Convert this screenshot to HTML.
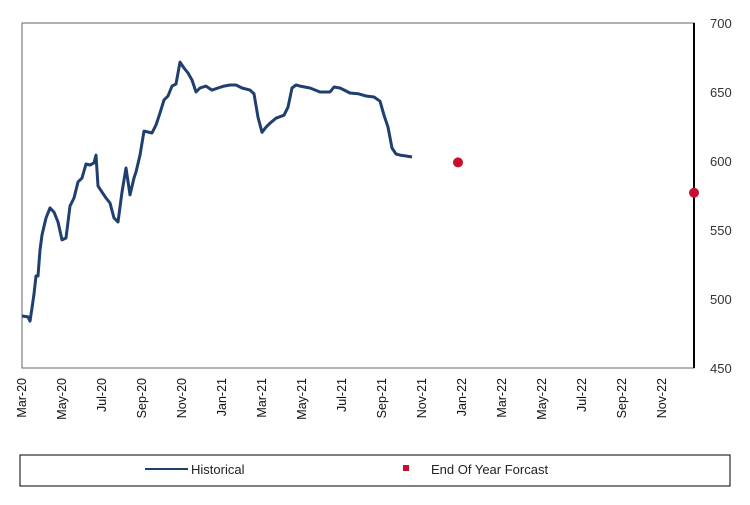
<!DOCTYPE html>
<html><head><meta charset="utf-8"><style>
body{margin:0;background:#fff;font-family:"Liberation Sans",Arial,sans-serif}
</style></head><body>
<svg id="chart" width="750" height="500" xmlns="http://www.w3.org/2000/svg">
<rect x="0" y="0" width="750" height="500" fill="#fff"/>
<rect x="22" y="23" width="672" height="345" fill="none" stroke="#666" stroke-width="1"/>
<line x1="694" y1="23" x2="694" y2="368" stroke="#000" stroke-width="2"/>
<g id="yt"></g>
<g id="xt"></g>
<path id="hist" fill="none" stroke="#1f3f6e" stroke-width="3" stroke-linejoin="round"/>
<g id="fc"></g>
<g>
<rect x="20" y="455" width="710" height="31" fill="#fff" stroke="#000" stroke-width="1"/>
<line x1="145" y1="469" x2="188" y2="469" stroke="#1f3f6e" stroke-width="2"/>
<text x="191" y="474" font-size="13" fill="#222">Historical</text>
<rect x="403" y="465" width="6" height="6" fill="#c8102e"/>
<text x="431" y="474" font-size="13" fill="#222">End Of Year Forcast</text>
</g>
</svg>
<script>
const yTicks=[450,500,550,600,650,700];
const xLabels=["Mar-20","May-20","Jul-20","Sep-20","Nov-20","Jan-21","Mar-21","May-21","Jul-21","Sep-21","Nov-21","Jan-22","Mar-22","May-22","Jul-22","Sep-22","Nov-22"];
const histMonths=[0,0.3,0.4,0.5,0.6,0.7,0.8,0.9,1,1.2,1.4,1.6,1.8,2,2.2,2.4,2.6,2.8,3,3.2,3.4,3.6,3.7,3.8,4,4.2,4.4,4.6,4.8,5,5.2,5.4,5.6,5.7,5.9,6.1,6.3,6.5,6.7,6.9,7.1,7.3,7.5,7.7,7.9,8.1,8.3,8.5,8.7,8.9,9.2,9.5,9.8,10.1,10.4,10.7,11,11.4,11.6,11.8,12,12.2,12.4,12.7,13.1,13.3,13.5,13.7,13.9,14.4,14.9,15.4,15.6,15.9,16.4,16.8,17.2,17.6,17.9,18.1,18.3,18.5,18.7,18.9,19.2,19.5];
const histValues=[487.7,487,484,493.5,503.6,516.7,516.7,535.5,546.4,558.7,566,563,555.8,542.8,544.2,567.4,573.2,584.8,587.7,597.8,597.1,598.6,604.3,581.9,577.5,573.2,569.6,558.7,555.8,577.5,594.9,575.4,587.7,592,604.3,621.7,621,620.3,626.1,634.8,644.2,647.1,654.3,655.8,671.7,667.4,663.8,658.7,650,652.9,654.3,651.4,652.9,654.3,655.1,655.1,652.9,651.4,648.8,631.7,620.8,624.5,627.4,631,633.2,639,652.9,655.1,654.3,652.9,650,650,653.6,652.9,649.3,648.8,647.1,646.4,643.3,633.2,624.5,609.4,605.1,604.3,603.6,602.9];
const fcMonths=[21.8,33.6];
const fcValues=[599,577];
const NS="http://www.w3.org/2000/svg";
const X=m=>22+m*20, Y=v=>368-(v-450)*1.38;
const yt=document.getElementById('yt');
yTicks.forEach(v=>{const t=document.createElementNS(NS,'text');


t.setAttribute('x',710);t.setAttribute('y',Y(v)+5);t.setAttribute('font-size','13');t.setAttribute('fill','#333');t.textContent=v;yt.appendChild(t);});
const xt=document.getElementById('xt');
xLabels.forEach((l,i)=>{const t=document.createElementNS(NS,'text');


const x=X(i*2)+4;t.setAttribute('transform',`translate(${x},378) rotate(-90)`);t.setAttribute('text-anchor','end');t.setAttribute('font-size','12.5');t.setAttribute('fill','#111');t.textContent=l;xt.appendChild(t);});
document.getElementById('hist').setAttribute('d',histMonths.map((m,i)=>(i?'L':'M')+X(m).toFixed(1)+' '+Y(histValues[i]).toFixed(1)).join(' '));
const fc=document.getElementById('fc');
fcMonths.forEach((m,i)=>{const c=document.createElementNS(NS,'circle');


c.setAttribute('cx',X(m));c.setAttribute('cy',Y(fcValues[i]));c.setAttribute('r',5);c.setAttribute('fill','#c8102e');fc.appendChild(c);});
</script>
</body></html>
